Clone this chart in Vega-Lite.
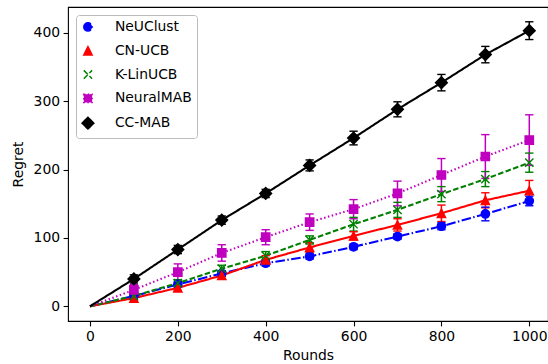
{
  "$schema": "https://vega.github.io/schema/vega-lite/v6.json",
  "autosize": "none",
  "width": 480,
  "height": 314,
  "padding": {"left": 68, "top": 7, "right": 0, "bottom": 43},
  "config": {
    "font": "DejaVu Sans",
    "view": {"stroke": "#000", "strokeWidth": 1.1},
    "axis": {"grid": false, "domain": false, "labelFont": "DejaVu Sans", "labelFontSize": 13.9, "labelColor": "#000", "titleFont": "DejaVu Sans", "titleFontSize": 13.9, "titleFontWeight": "normal", "titleColor": "#000", "tickColor": "#000", "tickWidth": 1.1, "tickSize": 4.9, "labelPadding": 3.5},
    "legend": {"title": null, "orient": "none", "legendX": 8, "legendY": 8, "padding": 5, "rowPadding": 7.8, "labelFontSize": 13.9, "labelFont": "DejaVu Sans", "labelColor": "#000", "labelOffset": 20, "symbolSize": 100, "symbolStrokeWidth": 1.5, "strokeColor": "#bbbbbb", "fillColor": "#ffffff", "cornerRadius": 3}
  },
  "data": {"values": [
    {"series": "NeUClust", "round": 0, "regret": 0, "lo": 0, "hi": 0},
    {"series": "NeUClust", "round": 100, "regret": 15, "lo": 12, "hi": 18},
    {"series": "NeUClust", "round": 200, "regret": 32, "lo": 28, "hi": 36},
    {"series": "NeUClust", "round": 300, "regret": 48, "lo": 44, "hi": 52},
    {"series": "NeUClust", "round": 400, "regret": 63, "lo": 59, "hi": 67},
    {"series": "NeUClust", "round": 500, "regret": 73, "lo": 69, "hi": 77},
    {"series": "NeUClust", "round": 600, "regret": 87, "lo": 83, "hi": 91},
    {"series": "NeUClust", "round": 700, "regret": 102, "lo": 98, "hi": 106},
    {"series": "NeUClust", "round": 800, "regret": 117, "lo": 112, "hi": 122},
    {"series": "NeUClust", "round": 900, "regret": 135, "lo": 125, "hi": 145},
    {"series": "NeUClust", "round": 1000, "regret": 154, "lo": 147, "hi": 161},
    {"series": "CN-UCB", "round": 0, "regret": 0, "lo": 0, "hi": 0},
    {"series": "CN-UCB", "round": 100, "regret": 12, "lo": 8, "hi": 16},
    {"series": "CN-UCB", "round": 200, "regret": 27, "lo": 23, "hi": 31},
    {"series": "CN-UCB", "round": 300, "regret": 45, "lo": 40, "hi": 50},
    {"series": "CN-UCB", "round": 400, "regret": 68, "lo": 62, "hi": 74},
    {"series": "CN-UCB", "round": 500, "regret": 86, "lo": 79, "hi": 93},
    {"series": "CN-UCB", "round": 600, "regret": 103, "lo": 97, "hi": 109},
    {"series": "CN-UCB", "round": 700, "regret": 119, "lo": 110, "hi": 128},
    {"series": "CN-UCB", "round": 800, "regret": 136, "lo": 124, "hi": 148},
    {"series": "CN-UCB", "round": 900, "regret": 155, "lo": 144, "hi": 166},
    {"series": "CN-UCB", "round": 1000, "regret": 169, "lo": 154, "hi": 184},
    {"series": "K-LinUCB", "round": 0, "regret": 0, "lo": 0, "hi": 0},
    {"series": "K-LinUCB", "round": 100, "regret": 15, "lo": 11, "hi": 19},
    {"series": "K-LinUCB", "round": 200, "regret": 34, "lo": 29, "hi": 39},
    {"series": "K-LinUCB", "round": 300, "regret": 55, "lo": 50, "hi": 60},
    {"series": "K-LinUCB", "round": 400, "regret": 74, "lo": 68, "hi": 80},
    {"series": "K-LinUCB", "round": 500, "regret": 97, "lo": 91, "hi": 103},
    {"series": "K-LinUCB", "round": 600, "regret": 120, "lo": 110, "hi": 130},
    {"series": "K-LinUCB", "round": 700, "regret": 141, "lo": 130, "hi": 152},
    {"series": "K-LinUCB", "round": 800, "regret": 164, "lo": 153, "hi": 175},
    {"series": "K-LinUCB", "round": 900, "regret": 186, "lo": 175, "hi": 197},
    {"series": "K-LinUCB", "round": 1000, "regret": 210, "lo": 196, "hi": 224},
    {"series": "NeuralMAB", "round": 0, "regret": 0, "lo": 0, "hi": 0},
    {"series": "NeuralMAB", "round": 100, "regret": 24, "lo": 16, "hi": 32},
    {"series": "NeuralMAB", "round": 200, "regret": 50, "lo": 38, "hi": 62},
    {"series": "NeuralMAB", "round": 300, "regret": 78, "lo": 66, "hi": 90},
    {"series": "NeuralMAB", "round": 400, "regret": 101, "lo": 90, "hi": 112},
    {"series": "NeuralMAB", "round": 500, "regret": 123, "lo": 111, "hi": 135},
    {"series": "NeuralMAB", "round": 600, "regret": 142, "lo": 128, "hi": 156},
    {"series": "NeuralMAB", "round": 700, "regret": 165, "lo": 147, "hi": 183},
    {"series": "NeuralMAB", "round": 800, "regret": 192, "lo": 168, "hi": 216},
    {"series": "NeuralMAB", "round": 900, "regret": 219, "lo": 187, "hi": 251},
    {"series": "NeuralMAB", "round": 1000, "regret": 243, "lo": 206, "hi": 280},
    {"series": "CC-MAB", "round": 0, "regret": 0, "lo": 0, "hi": 0},
    {"series": "CC-MAB", "round": 100, "regret": 40, "lo": 34, "hi": 46},
    {"series": "CC-MAB", "round": 200, "regret": 83, "lo": 77, "hi": 89},
    {"series": "CC-MAB", "round": 300, "regret": 126, "lo": 120, "hi": 132},
    {"series": "CC-MAB", "round": 400, "regret": 165, "lo": 159, "hi": 171},
    {"series": "CC-MAB", "round": 500, "regret": 206, "lo": 198, "hi": 214},
    {"series": "CC-MAB", "round": 600, "regret": 246, "lo": 236, "hi": 256},
    {"series": "CC-MAB", "round": 700, "regret": 288, "lo": 277, "hi": 299},
    {"series": "CC-MAB", "round": 800, "regret": 327, "lo": 315, "hi": 339},
    {"series": "CC-MAB", "round": 900, "regret": 368, "lo": 356, "hi": 380},
    {"series": "CC-MAB", "round": 1000, "regret": 403, "lo": 390, "hi": 416}
  ]},
  "layer": [
    {
      "mark": {"type": "line", "strokeWidth": 2.08, "clip": true},
      "encoding": {
        "x": {"field": "round", "type": "quantitative", "scale": {"domain": [-50, 1042.6], "nice": false, "zero": false},
              "axis": {"values": [0, 200, 400, 600, 800, 1000], "format": "d", "title": "Rounds", "titlePadding": 5}},
        "y": {"field": "regret", "type": "quantitative", "scale": {"domain": [-21.5, 437.6], "nice": false, "zero": false},
              "axis": {"values": [0, 100, 200, 300, 400], "format": "d", "title": "Regret", "titlePadding": 8}},
        "color": {"field": "series", "type": "nominal",
                  "scale": {"domain": ["NeUClust", "CN-UCB", "K-LinUCB", "NeuralMAB", "CC-MAB"], "range": ["#0000ff", "#ff0000", "#008000", "#bf00bf", "#000000"]},
                  "legend": {"encode": {"symbols": {"update": {"size": {"value": 100}, "strokeWidth": {"value": 1.5}, "opacity": {"value": 1}, "strokeDash": {"value": []},
                      "shape": {"signal": "datum.value === 'NeUClust' ? 'M-2.8,0H-0.88M-0.4,0H-0.1M0.38,0H2.3M0,-1.5V1.5M-0.83,-1.5H0.83M-0.83,1.5H0.83M-0.83,0A0.83,0.83 0 1,1 0.83,0A0.83,0.83 0 1,1 -0.83,0Z' : datum.value === 'CN-UCB' ? 'M-2.8,0H2.8M0,-1.5V1.5M-0.83,-1.5H0.83M-0.83,1.5H0.83M0,-0.83L0.83,0.83L-0.83,0.83Z' : datum.value === 'K-LinUCB' ? 'M-2.8,0H-1.69M-1.21,0H-0.1M0.38,0H1.49M1.97,0H2.8M0,-1.5V1.5M-0.83,-1.5H0.83M-0.83,1.5H0.83M-0.83,-0.83L0.83,0.83M-0.83,0.83L0.83,-0.83' : datum.value === 'NeuralMAB' ? 'M-2.8,0H-2.5M-2,0H-1.7M-1.21,0H-0.91M-0.42,0H-0.12M0.38,0H0.68M1.18,0H1.48M1.96,0H2.26M2.76,0H2.8M0,-1.5V1.5M-0.83,-1.5H0.83M-0.83,1.5H0.83M-0.83,-0.83H0.83V0.83H-0.83Z' : 'M-2.8,0H2.8M0,-1.5V1.5M-0.83,-1.5H0.83M-0.83,1.5H0.83M0,-1.18L1.18,0L0,1.18L-1.18,0Z'"}}}}}},
        "strokeDash": {"field": "series", "type": "nominal",
                       "scale": {"domain": ["NeUClust", "CN-UCB", "K-LinUCB", "NeuralMAB", "CC-MAB"], "range": [[9.6, 2.4, 1.5, 2.4], [1, 0], [5.55, 2.4], [1.5, 2.475], [1, 0]]},
                       "legend": null}
      }
    },
    {
      "transform": [{"filter": "datum.round > 0"}],
      "mark": {"type": "rule", "strokeWidth": 1.5},
      "encoding": {
        "x": {"field": "round", "type": "quantitative"},
        "y": {"field": "lo", "type": "quantitative"},
        "y2": {"field": "hi"},
        "color": {"field": "series", "type": "nominal",
                  "legend": {"encode": {"symbols": {"update": {"size": {"value": 100}, "strokeWidth": {"value": 1.5}, "opacity": {"value": 1}, "strokeDash": {"value": []},
                      "shape": {"signal": "datum.value === 'NeUClust' ? 'M-2.8,0H-0.88M-0.4,0H-0.1M0.38,0H2.3M0,-1.5V1.5M-0.83,-1.5H0.83M-0.83,1.5H0.83M-0.83,0A0.83,0.83 0 1,1 0.83,0A0.83,0.83 0 1,1 -0.83,0Z' : datum.value === 'CN-UCB' ? 'M-2.8,0H2.8M0,-1.5V1.5M-0.83,-1.5H0.83M-0.83,1.5H0.83M0,-0.83L0.83,0.83L-0.83,0.83Z' : datum.value === 'K-LinUCB' ? 'M-2.8,0H-1.69M-1.21,0H-0.1M0.38,0H1.49M1.97,0H2.8M0,-1.5V1.5M-0.83,-1.5H0.83M-0.83,1.5H0.83M-0.83,-0.83L0.83,0.83M-0.83,0.83L0.83,-0.83' : datum.value === 'NeuralMAB' ? 'M-2.8,0H-2.5M-2,0H-1.7M-1.21,0H-0.91M-0.42,0H-0.12M0.38,0H0.68M1.18,0H1.48M1.96,0H2.26M2.76,0H2.8M0,-1.5V1.5M-0.83,-1.5H0.83M-0.83,1.5H0.83M-0.83,-0.83H0.83V0.83H-0.83Z' : 'M-2.8,0H2.8M0,-1.5V1.5M-0.83,-1.5H0.83M-0.83,1.5H0.83M0,-1.18L1.18,0L0,1.18L-1.18,0Z'"}}}}}}
      }
    },
    {
      "transform": [{"filter": "datum.round > 0"}],
      "mark": {"type": "point", "shape": "M-1,0L1,0", "size": 69, "strokeWidth": 1.4, "filled": false, "opacity": 1},
      "encoding": {
        "x": {"field": "round", "type": "quantitative"},
        "y": {"field": "lo", "type": "quantitative"},
        "color": {"field": "series", "type": "nominal",
                  "legend": {"encode": {"symbols": {"update": {"size": {"value": 100}, "strokeWidth": {"value": 1.5}, "opacity": {"value": 1}, "strokeDash": {"value": []},
                      "shape": {"signal": "datum.value === 'NeUClust' ? 'M-2.8,0H-0.88M-0.4,0H-0.1M0.38,0H2.3M0,-1.5V1.5M-0.83,-1.5H0.83M-0.83,1.5H0.83M-0.83,0A0.83,0.83 0 1,1 0.83,0A0.83,0.83 0 1,1 -0.83,0Z' : datum.value === 'CN-UCB' ? 'M-2.8,0H2.8M0,-1.5V1.5M-0.83,-1.5H0.83M-0.83,1.5H0.83M0,-0.83L0.83,0.83L-0.83,0.83Z' : datum.value === 'K-LinUCB' ? 'M-2.8,0H-1.69M-1.21,0H-0.1M0.38,0H1.49M1.97,0H2.8M0,-1.5V1.5M-0.83,-1.5H0.83M-0.83,1.5H0.83M-0.83,-0.83L0.83,0.83M-0.83,0.83L0.83,-0.83' : datum.value === 'NeuralMAB' ? 'M-2.8,0H-2.5M-2,0H-1.7M-1.21,0H-0.91M-0.42,0H-0.12M0.38,0H0.68M1.18,0H1.48M1.96,0H2.26M2.76,0H2.8M0,-1.5V1.5M-0.83,-1.5H0.83M-0.83,1.5H0.83M-0.83,-0.83H0.83V0.83H-0.83Z' : 'M-2.8,0H2.8M0,-1.5V1.5M-0.83,-1.5H0.83M-0.83,1.5H0.83M0,-1.18L1.18,0L0,1.18L-1.18,0Z'"}}}}}}
      }
    },
    {
      "transform": [{"filter": "datum.round > 0"}],
      "mark": {"type": "point", "shape": "M-1,0L1,0", "size": 69, "strokeWidth": 1.4, "filled": false, "opacity": 1},
      "encoding": {
        "x": {"field": "round", "type": "quantitative"},
        "y": {"field": "hi", "type": "quantitative"},
        "color": {"field": "series", "type": "nominal",
                  "legend": {"encode": {"symbols": {"update": {"size": {"value": 100}, "strokeWidth": {"value": 1.5}, "opacity": {"value": 1}, "strokeDash": {"value": []},
                      "shape": {"signal": "datum.value === 'NeUClust' ? 'M-2.8,0H-0.88M-0.4,0H-0.1M0.38,0H2.3M0,-1.5V1.5M-0.83,-1.5H0.83M-0.83,1.5H0.83M-0.83,0A0.83,0.83 0 1,1 0.83,0A0.83,0.83 0 1,1 -0.83,0Z' : datum.value === 'CN-UCB' ? 'M-2.8,0H2.8M0,-1.5V1.5M-0.83,-1.5H0.83M-0.83,1.5H0.83M0,-0.83L0.83,0.83L-0.83,0.83Z' : datum.value === 'K-LinUCB' ? 'M-2.8,0H-1.69M-1.21,0H-0.1M0.38,0H1.49M1.97,0H2.8M0,-1.5V1.5M-0.83,-1.5H0.83M-0.83,1.5H0.83M-0.83,-0.83L0.83,0.83M-0.83,0.83L0.83,-0.83' : datum.value === 'NeuralMAB' ? 'M-2.8,0H-2.5M-2,0H-1.7M-1.21,0H-0.91M-0.42,0H-0.12M0.38,0H0.68M1.18,0H1.48M1.96,0H2.26M2.76,0H2.8M0,-1.5V1.5M-0.83,-1.5H0.83M-0.83,1.5H0.83M-0.83,-0.83H0.83V0.83H-0.83Z' : 'M-2.8,0H2.8M0,-1.5V1.5M-0.83,-1.5H0.83M-0.83,1.5H0.83M0,-1.18L1.18,0L0,1.18L-1.18,0Z'"}}}}}}
      }
    },
    {
      "transform": [{"filter": "datum.round > 0"}],
      "mark": {"type": "point", "size": 100, "strokeWidth": 1.4, "filled": true, "opacity": 1},
      "encoding": {
        "x": {"field": "round", "type": "quantitative"},
        "y": {"field": "regret", "type": "quantitative"},
        "color": {"field": "series", "type": "nominal",
                  "legend": {"encode": {"symbols": {"update": {"size": {"value": 100}, "strokeWidth": {"value": 1.5}, "opacity": {"value": 1}, "strokeDash": {"value": []},
                      "shape": {"signal": "datum.value === 'NeUClust' ? 'M-2.8,0H-0.88M-0.4,0H-0.1M0.38,0H2.3M0,-1.5V1.5M-0.83,-1.5H0.83M-0.83,1.5H0.83M-0.83,0A0.83,0.83 0 1,1 0.83,0A0.83,0.83 0 1,1 -0.83,0Z' : datum.value === 'CN-UCB' ? 'M-2.8,0H2.8M0,-1.5V1.5M-0.83,-1.5H0.83M-0.83,1.5H0.83M0,-0.83L0.83,0.83L-0.83,0.83Z' : datum.value === 'K-LinUCB' ? 'M-2.8,0H-1.69M-1.21,0H-0.1M0.38,0H1.49M1.97,0H2.8M0,-1.5V1.5M-0.83,-1.5H0.83M-0.83,1.5H0.83M-0.83,-0.83L0.83,0.83M-0.83,0.83L0.83,-0.83' : datum.value === 'NeuralMAB' ? 'M-2.8,0H-2.5M-2,0H-1.7M-1.21,0H-0.91M-0.42,0H-0.12M0.38,0H0.68M1.18,0H1.48M1.96,0H2.26M2.76,0H2.8M0,-1.5V1.5M-0.83,-1.5H0.83M-0.83,1.5H0.83M-0.83,-0.83H0.83V0.83H-0.83Z' : 'M-2.8,0H2.8M0,-1.5V1.5M-0.83,-1.5H0.83M-0.83,1.5H0.83M0,-1.18L1.18,0L0,1.18L-1.18,0Z'"}}}}}},
        "stroke": {"field": "series", "type": "nominal",
                   "scale": {"domain": ["NeUClust", "CN-UCB", "K-LinUCB", "NeuralMAB", "CC-MAB"], "range": ["#0000ff", "#ff0000", "#008000", "#bf00bf", "#000000"]},
                   "legend": {"encode": {"symbols": {"update": {"size": {"value": 100}, "strokeWidth": {"value": 1.5}, "opacity": {"value": 1}, "strokeDash": {"value": []},
                      "shape": {"signal": "datum.value === 'NeUClust' ? 'M-2.8,0H-0.88M-0.4,0H-0.1M0.38,0H2.3M0,-1.5V1.5M-0.83,-1.5H0.83M-0.83,1.5H0.83M-0.83,0A0.83,0.83 0 1,1 0.83,0A0.83,0.83 0 1,1 -0.83,0Z' : datum.value === 'CN-UCB' ? 'M-2.8,0H2.8M0,-1.5V1.5M-0.83,-1.5H0.83M-0.83,1.5H0.83M0,-0.83L0.83,0.83L-0.83,0.83Z' : datum.value === 'K-LinUCB' ? 'M-2.8,0H-1.69M-1.21,0H-0.1M0.38,0H1.49M1.97,0H2.8M0,-1.5V1.5M-0.83,-1.5H0.83M-0.83,1.5H0.83M-0.83,-0.83L0.83,0.83M-0.83,0.83L0.83,-0.83' : datum.value === 'NeuralMAB' ? 'M-2.8,0H-2.5M-2,0H-1.7M-1.21,0H-0.91M-0.42,0H-0.12M0.38,0H0.68M1.18,0H1.48M1.96,0H2.26M2.76,0H2.8M0,-1.5V1.5M-0.83,-1.5H0.83M-0.83,1.5H0.83M-0.83,-0.83H0.83V0.83H-0.83Z' : 'M-2.8,0H2.8M0,-1.5V1.5M-0.83,-1.5H0.83M-0.83,1.5H0.83M0,-1.18L1.18,0L0,1.18L-1.18,0Z'"}}}}}},
        "shape": {"field": "series", "type": "nominal",
                  "scale": {"domain": ["NeUClust", "CN-UCB", "K-LinUCB", "NeuralMAB", "CC-MAB"],
                            "range": ["M-0.83,0A0.83,0.83 0 1,1 0.83,0A0.83,0.83 0 1,1 -0.83,0Z", "M0,-0.83L0.83,0.83L-0.83,0.83Z", "M-0.83,-0.83L0.83,0.83M-0.83,0.83L0.83,-0.83", "M-0.83,-0.83H0.83V0.83H-0.83Z", "M0,-1.18L1.18,0L0,1.18L-1.18,0Z"]},
                  "legend": {"encode": {"symbols": {"update": {"size": {"value": 100}, "strokeWidth": {"value": 1.5}, "opacity": {"value": 1}, "strokeDash": {"value": []},
                      "shape": {"signal": "datum.value === 'NeUClust' ? 'M-2.8,0H-0.88M-0.4,0H-0.1M0.38,0H2.3M0,-1.5V1.5M-0.83,-1.5H0.83M-0.83,1.5H0.83M-0.83,0A0.83,0.83 0 1,1 0.83,0A0.83,0.83 0 1,1 -0.83,0Z' : datum.value === 'CN-UCB' ? 'M-2.8,0H2.8M0,-1.5V1.5M-0.83,-1.5H0.83M-0.83,1.5H0.83M0,-0.83L0.83,0.83L-0.83,0.83Z' : datum.value === 'K-LinUCB' ? 'M-2.8,0H-1.69M-1.21,0H-0.1M0.38,0H1.49M1.97,0H2.8M0,-1.5V1.5M-0.83,-1.5H0.83M-0.83,1.5H0.83M-0.83,-0.83L0.83,0.83M-0.83,0.83L0.83,-0.83' : datum.value === 'NeuralMAB' ? 'M-2.8,0H-2.5M-2,0H-1.7M-1.21,0H-0.91M-0.42,0H-0.12M0.38,0H0.68M1.18,0H1.48M1.96,0H2.26M2.76,0H2.8M0,-1.5V1.5M-0.83,-1.5H0.83M-0.83,1.5H0.83M-0.83,-0.83H0.83V0.83H-0.83Z' : 'M-2.8,0H2.8M0,-1.5V1.5M-0.83,-1.5H0.83M-0.83,1.5H0.83M0,-1.18L1.18,0L0,1.18L-1.18,0Z'"}}}}}}
      }
    }
  ]
}
